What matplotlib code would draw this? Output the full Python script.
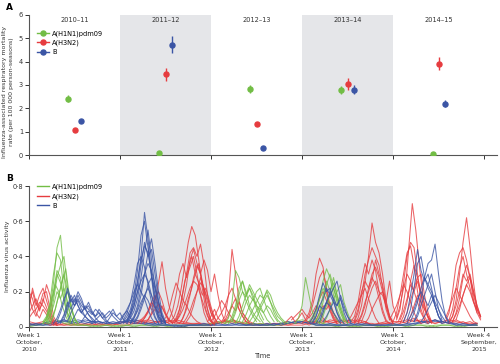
import numpy as np
import matplotlib.pyplot as plt
from matplotlib.lines import Line2D
from matplotlib.transforms import ScaledTranslation

plt.rcParams['font.family'] = ['Liberation Sans Narrow', 'DejaVu Sans']

# ---- panel A: mortality rate per season ----
seasons = ["2010–11", "2011–12", "2012–13", "2013–14", "2014–15"]
h1n1_rate = [2.42, 0.07, 2.82, 2.79, 0.05]
h1n1_err = [0.15, 0.03, 0.16, 0.16, 0.03]
h3n2_rate = [1.07, 3.46, 1.34, 3.04, 3.92]
h3n2_err = [0.06, 0.28, 0.06, 0.27, 0.27]
b_rate = [1.45, 4.73, 0.31, 2.80, 2.20]
b_err = [0.08, 0.36, 0.04, 0.20, 0.14]

# ---- panel B: activity curves, (start week, values x100 every 2 weeks) ----
red_runs = [
    (0, [14, 20, 12, 18, 22, 15, 8, 3, 1]),
    (0, [8, 12, 16, 10, 14, 24, 18, 6, 2]),
    (0, [18, 10, 6, 12, 19, 20, 10, 4, 1]),
    (0, [5, 8, 10, 14, 12, 9, 5, 2, 1]),
    (0, [20, 16, 8, 5, 10, 7, 3, 1]),
    (0, [10, 22, 14, 9, 16, 11, 6, 2]),
    (62, [2, 4, 6, 9, 14, 18, 12, 6, 3, 2]),
    (64, [3, 5, 8, 12, 16, 20, 15, 8, 4, 2]),
    (66, [2, 4, 7, 10, 13, 11, 7, 4, 2]),
    (68, [4, 8, 15, 25, 37, 22, 12, 6, 3, 2]),
    (64, [2, 5, 9, 14, 11, 8, 12, 7, 3]),
    (81, [3, 6, 12, 22, 35, 48, 57, 52, 38, 22, 10, 4, 2]),
    (82, [2, 5, 10, 20, 30, 42, 45, 40, 47, 35, 18, 8, 3]),
    (84, [3, 7, 14, 24, 38, 44, 36, 30, 20, 10, 4, 2]),
    (80, [4, 9, 18, 30, 36, 28, 34, 40, 30, 18, 8, 3, 1]),
    (86, [2, 5, 10, 18, 28, 35, 30, 38, 32, 20, 30, 18, 8, 3]),
    (84, [3, 6, 10, 16, 22, 26, 24, 18, 12, 6, 3, 1]),
    (88, [2, 5, 9, 15, 20, 25, 22, 16, 10, 5, 2]),
    (78, [5, 10, 18, 25, 20, 15, 12, 8, 5, 3, 2]),
    (90, [3, 6, 12, 20, 28, 22, 14, 8, 5]),
    (83, [2, 6, 14, 26, 33, 40, 30, 36, 26, 14, 6, 2]),
    (87, [3, 8, 16, 22, 30, 25, 18, 22, 15, 8, 3]),
    (102, [3, 6, 10, 5, 3, 6, 18, 44, 30, 15, 8, 5, 3, 2]),
    (106, [2, 5, 8, 12, 18, 22, 16, 10, 6, 3, 2]),
    (104, [3, 6, 10, 15, 12, 8, 5, 3]),
    (110, [2, 4, 8, 12, 16, 10, 6, 3]),
    (112, [3, 6, 12, 9, 14, 8, 5, 2]),
    (146, [2, 4, 6, 3, 5, 8, 4, 2]),
    (156, [2, 4, 8, 15, 30, 39, 34, 20, 10, 5, 2]),
    (158, [3, 6, 12, 20, 28, 32, 22, 12, 6, 3]),
    (160, [2, 5, 10, 16, 20, 15, 9, 4, 2]),
    (150, [4, 6, 8, 10, 7, 5, 8, 12, 9, 5, 3]),
    (162, [2, 4, 8, 12, 10, 14, 8, 4, 2]),
    (186, [2, 5, 12, 25, 40, 59, 48, 42, 30, 15, 6, 2]),
    (186, [3, 8, 18, 30, 38, 45, 40, 35, 22, 10, 4]),
    (184, [3, 6, 14, 26, 36, 30, 38, 32, 20, 10, 4, 2]),
    (188, [2, 6, 12, 22, 30, 34, 28, 20, 12, 5, 2]),
    (186, [4, 10, 20, 26, 22, 28, 24, 16, 8, 3]),
    (190, [3, 8, 16, 22, 26, 20, 18, 12, 6, 3]),
    (182, [3, 6, 10, 14, 18, 22, 16, 10, 5, 2]),
    (192, [2, 5, 10, 14, 18, 20, 14, 26, 12, 6]),
    (188, [3, 7, 14, 20, 26, 38, 30, 24, 14, 6, 2]),
    (211, [3, 8, 20, 45, 70, 55, 35, 18, 8, 3]),
    (210, [4, 10, 25, 40, 48, 45, 30, 15, 6, 2]),
    (208, [3, 8, 18, 30, 42, 46, 35, 20, 10, 4]),
    (212, [2, 6, 14, 26, 35, 28, 30, 18, 8, 3]),
    (210, [5, 12, 22, 30, 26, 20, 14, 8, 4]),
    (214, [3, 8, 15, 22, 28, 20, 12, 6, 3]),
    (206, [4, 8, 12, 18, 24, 20, 14, 8, 4, 2]),
    (216, [3, 6, 12, 18, 14, 10, 6, 3]),
    (212, [4, 9, 16, 24, 20, 26, 18, 10, 5, 2]),
    (240, [2, 6, 15, 30, 48, 62, 45, 25, 10]),
    (238, [3, 8, 20, 35, 42, 45, 38, 28, 15, 8]),
    (240, [4, 10, 22, 34, 40, 30, 22, 14, 8, 4]),
    (242, [3, 8, 16, 28, 35, 28, 18, 10, 5]),
    (240, [3, 6, 12, 20, 30, 26, 30, 20, 12, 6]),
    (244, [4, 10, 18, 24, 20, 14, 10, 6]),
    (238, [5, 10, 16, 22, 18, 14, 10, 6, 3, 2]),
    (242, [3, 7, 12, 18, 24, 28, 20, 12, 6]),
]

green_runs = [
    (8, [2, 4, 10, 25, 45, 52, 30, 12, 5, 2]),
    (8, [3, 6, 14, 30, 42, 38, 20, 8, 3]),
    (10, [2, 5, 15, 28, 35, 40, 22, 10, 4, 2]),
    (8, [2, 5, 12, 20, 32, 28, 15, 6, 2]),
    (10, [3, 8, 18, 30, 25, 15, 8, 3]),
    (12, [2, 6, 14, 22, 30, 20, 12, 5, 2]),
    (9, [3, 7, 15, 24, 20, 12, 6, 2]),
    (11, [2, 5, 10, 18, 26, 33, 18, 8, 3]),
    (10, [3, 6, 12, 20, 16, 22, 14, 6, 2]),
    (112, [2, 5, 14, 32, 28, 20, 15, 10, 6, 3]),
    (114, [2, 6, 12, 22, 26, 18, 22, 16, 10, 5, 2]),
    (116, [3, 8, 15, 20, 17, 22, 18, 12, 8, 4]),
    (118, [2, 6, 12, 18, 24, 20, 16, 12, 8, 4, 2]),
    (120, [3, 8, 14, 18, 15, 20, 22, 16, 10, 6, 3]),
    (124, [2, 6, 10, 14, 18, 16, 20, 14, 8, 4, 2]),
    (122, [3, 7, 12, 16, 12, 10, 8, 12, 10, 6, 3]),
    (128, [2, 5, 10, 14, 18, 14, 10, 6, 4, 2]),
    (116, [4, 10, 18, 26, 20, 12, 8, 5, 3]),
    (126, [3, 6, 9, 12, 16, 21, 18, 12, 8, 5, 3, 2]),
    (152, [2, 5, 12, 28, 18, 8, 4, 2]),
    (162, [3, 8, 16, 26, 33, 28, 18, 10, 5, 2]),
    (164, [2, 6, 14, 24, 30, 22, 14, 8, 3]),
    (164, [3, 8, 18, 26, 20, 28, 18, 10, 4]),
    (166, [2, 6, 12, 20, 25, 18, 12, 6, 2]),
    (160, [3, 6, 10, 16, 22, 18, 12, 8, 4, 2]),
    (166, [3, 8, 14, 18, 22, 16, 10, 5, 2]),
    (168, [2, 5, 10, 16, 20, 24, 14, 8, 3]),
]

blue_runs = [
    (14, [2, 5, 10, 16, 20, 14, 18, 12, 8, 6, 4, 3]),
    (16, [3, 8, 14, 22, 16, 12, 15, 10, 6, 4, 2]),
    (18, [2, 6, 12, 18, 14, 20, 16, 10, 7, 5, 3]),
    (20, [4, 10, 16, 12, 18, 14, 10, 12, 8, 5, 3, 2]),
    (22, [3, 8, 12, 16, 12, 10, 14, 9, 6, 8, 5, 3]),
    (24, [2, 6, 10, 8, 12, 10, 8, 6, 10, 7, 4, 2]),
    (30, [3, 6, 9, 7, 10, 8, 5, 7, 9, 6, 4, 2]),
    (36, [2, 4, 6, 8, 5, 7, 10, 6, 8, 4, 2]),
    (44, [2, 5, 8, 6, 4, 7, 9, 5, 3]),
    (18, [3, 7, 14, 10, 16, 12, 8, 11, 7, 4, 2]),
    (54, [2, 4, 8, 14, 25, 40, 65, 50, 30, 15, 6, 3, 2]),
    (54, [3, 6, 10, 18, 32, 52, 60, 45, 28, 12, 5, 2]),
    (56, [2, 5, 9, 16, 28, 42, 55, 38, 22, 10, 4, 2]),
    (56, [3, 6, 12, 20, 35, 48, 40, 44, 30, 15, 6, 2]),
    (58, [2, 5, 10, 18, 30, 42, 50, 36, 20, 8, 3]),
    (54, [4, 8, 14, 24, 36, 40, 34, 24, 14, 6, 2]),
    (58, [3, 6, 12, 22, 30, 36, 32, 24, 14, 6, 2]),
    (56, [3, 7, 12, 20, 26, 30, 26, 18, 10, 4, 2]),
    (60, [2, 5, 10, 16, 24, 28, 22, 14, 6, 2]),
    (52, [3, 6, 10, 14, 20, 24, 20, 16, 10, 5, 2]),
    (60, [3, 6, 12, 18, 22, 18, 12, 6, 3]),
    (58, [2, 5, 9, 14, 18, 15, 10, 5, 2]),
    (56, [4, 8, 16, 26, 38, 46, 42, 30, 18, 8, 3]),
    (160, [2, 5, 10, 18, 25, 20, 22, 15, 8, 3]),
    (162, [3, 6, 12, 16, 22, 18, 14, 8, 4, 2]),
    (164, [2, 5, 10, 14, 18, 22, 26, 16, 8, 3]),
    (166, [3, 8, 14, 20, 16, 12, 18, 12, 6, 2]),
    (162, [2, 6, 12, 10, 14, 12, 8, 5, 2]),
    (168, [3, 6, 10, 14, 12, 16, 10, 6, 3]),
    (214, [3, 8, 18, 30, 44, 32, 26, 30, 22, 12, 6, 3]),
    (220, [3, 8, 16, 28, 36, 38, 47, 30, 15, 6, 2]),
    (216, [4, 10, 22, 36, 40, 28, 22, 18, 12, 6, 3]),
    (218, [3, 8, 14, 22, 28, 24, 30, 20, 10, 4]),
    (220, [3, 6, 12, 18, 24, 20, 14, 10, 6, 3]),
    (216, [2, 6, 10, 16, 20, 16, 12, 18, 12, 6, 2]),
    (224, [3, 6, 10, 14, 18, 14, 10, 6, 3]),
]

# low background activity, x100, every 4 weeks from week 0
red_base = [
    [3, 2, 2, 1, 1, 1, 1, 2, 1, 1, 1, 1, 2, 1, 1, 2, 3, 4, 3, 2, 3, 4, 3, 2, 2, 1, 1, 2, 3, 3, 2, 2, 1,
     1, 2, 1, 1, 1, 1, 1, 2, 2, 3, 3, 2, 3, 4, 3, 2, 2, 1, 2, 2, 3, 4, 3, 4, 3, 2, 3, 4, 3, 2, 2, 2],
    [1, 2, 3, 1, 2, 1, 2, 1, 1, 2, 1, 2, 1, 2, 3, 2, 2, 3, 2, 4, 2, 3, 2, 1, 2, 2, 1, 3, 2, 4, 2, 3, 1,
     2, 1, 2, 1, 2, 2, 3, 1, 3, 2, 4, 3, 2, 3, 2, 3, 1, 2, 3, 1, 2, 3, 5, 2, 3, 2, 3, 2, 4, 2, 3, 1],
    [2, 1, 2, 2, 1, 2, 1, 1, 2, 1, 2, 1, 1, 3, 2, 3, 4, 2, 3, 3, 4, 2, 2, 2, 1, 1, 2, 2, 4, 2, 3, 1, 2,
     1, 1, 2, 2, 1, 2, 2, 3, 2, 4, 2, 3, 4, 2, 4, 3, 1, 2, 2, 3, 3, 2, 4, 3, 2, 4, 2, 3, 2, 3, 1, 2],
]
green_base = [
    [1, 1, 2, 3, 4, 2, 1, 1, 1, 0, 1, 1, 1, 0, 1, 1, 1, 1, 1, 1, 0, 1, 1, 1, 1, 1, 1, 2, 3, 4, 3, 2, 2,
     1, 1, 1, 1, 2, 3, 4, 3, 3, 2, 1, 1, 1, 0, 1, 1, 1, 0, 1, 1, 1, 1, 1, 1, 0, 1, 1, 1, 1, 0, 1, 1],
    [0, 1, 1, 2, 3, 3, 2, 1, 1, 1, 0, 1, 0, 1, 1, 0, 1, 1, 0, 1, 1, 1, 0, 1, 1, 1, 2, 3, 2, 3, 2, 1, 1,
     2, 1, 1, 2, 3, 2, 3, 2, 1, 1, 1, 0, 1, 1, 0, 1, 1, 1, 0, 1, 1, 0, 1, 1, 1, 0, 1, 1, 0, 1, 1, 1],
]
blue_base = [
    [2, 1, 1, 2, 3, 4, 3, 4, 3, 2, 3, 2, 2, 3, 3, 4, 3, 2, 2, 1, 1, 1, 1, 1, 1, 1, 1, 1, 1, 2, 1, 1, 1,
     1, 1, 2, 1, 2, 3, 3, 2, 2, 1, 1, 1, 1, 1, 1, 2, 1, 1, 1, 1, 1, 1, 2, 3, 3, 4, 3, 2, 2, 1, 1, 1],
    [1, 2, 1, 1, 2, 3, 3, 2, 4, 3, 2, 3, 2, 2, 4, 3, 2, 2, 1, 2, 1, 1, 0, 1, 1, 1, 1, 2, 1, 1, 1, 1, 2,
     1, 1, 1, 2, 3, 2, 3, 2, 1, 1, 1, 1, 1, 2, 1, 1, 1, 1, 1, 1, 1, 2, 2, 2, 4, 3, 3, 2, 1, 1, 1, 2],
    [1, 1, 2, 3, 2, 4, 2, 3, 2, 3, 3, 2, 3, 2, 3, 2, 2, 1, 1, 1, 1, 0, 1, 1, 1, 2, 1, 1, 1, 1, 2, 1, 1,
     1, 2, 1, 2, 2, 3, 2, 3, 1, 1, 2, 1, 1, 1, 2, 1, 1, 1, 1, 2, 1, 1, 1, 3, 2, 4, 2, 3, 1, 2, 1, 1],
]

GREEN = '#72bd45'
RED = '#e63c3f'
BLUE = '#3b55a5'
SHADE = '#e5e6e9'
AXC = '#555555'
TXT = '#333333'
FS = 4.8

fig = plt.figure(figsize=(5.0, 3.64), dpi=100)

# ---------- panel A ----------
axA = fig.add_axes([0.058, 0.574, 0.936, 0.385])
for lo in (1, 3):
    axA.axvspan(lo, lo + 1, color=SHADE, lw=0, zorder=0)
centers = np.arange(len(seasons)) + 0.5
off = 0.068
for rate, err, col, dx in [(h1n1_rate, h1n1_err, GREEN, -off),
                           (h3n2_rate, h3n2_err, RED, 0),
                           (b_rate, b_err, BLUE, off)]:
    axA.errorbar(centers + dx, rate, yerr=err, fmt='o', color=col, ms=3.6,
                 elinewidth=1.0, capsize=0, zorder=3)
for c, s in zip(centers, seasons):
    axA.text(c, 5.78, s, ha='center', va='center', fontsize=FS, color=TXT)
axA.set_xlim(0, 5.14)
axA.set_ylim(0, 6)
axA.set_xticks([0, 1, 2, 3, 4, 5])
axA.set_xticklabels([])
axA.set_yticks(range(7))
axA.set_ylabel("Influenza-associated respiratory mortality\nrate (per 100 000 person-seasons)",
               fontsize=4.5, color=TXT, linespacing=1.5)
axA.yaxis.set_label_coords(-0.032, 0.45)
handles = [Line2D([], [], color=c, marker='o', ms=3.6, lw=1.0) for c in (GREEN, RED, BLUE)]
axA.legend(handles, ["A(H1N1)pdm09", "A(H3N2)", "B"], loc='upper left',
           bbox_to_anchor=(0.012, 0.91), frameon=False, fontsize=FS,
           handlelength=1.7, handletextpad=0.5, labelspacing=0.45, borderaxespad=0)
fig.text(0.012, 0.992, "A", fontsize=6.5, fontweight='bold', va='top')

# ---------- panel B ----------
axB = fig.add_axes([0.058, 0.102, 0.936, 0.387])
for lo in (52, 156):
    axB.axvspan(lo, lo + 52, color=SHADE, lw=0, zorder=0)

for base, col in [(red_base, RED), (green_base, GREEN), (blue_base, BLUE)]:
    for vals in base:
        x = 4 * np.arange(len(vals))
        keep = x <= 258
        axB.plot(x[keep], np.array(vals)[keep] / 100, color=col, lw=0.7, alpha=0.8)

for runs, col in [(red_runs, RED), (green_runs, GREEN), (blue_runs, BLUE)]:
    for start, vals in runs:
        x = start + 2 * np.arange(len(vals))
        axB.plot(x, np.array(vals) / 100, color=col, lw=0.75, alpha=0.8)

axB.set_xlim(0, 267.4)
axB.set_ylim(0, 0.8)
axB.set_yticks([0, 0.2, 0.4, 0.6, 0.8])
axB.set_yticklabels(["0", "0·2", "0·4", "0·6", "0·8"])
axB.set_xticks([0, 52, 104, 156, 208, 260])
axB.set_xticklabels(["Week 1\nOctober,\n2010", "Week 1\nOctober,\n2011", "Week 1\nOctober,\n2012",
                     "Week 1\nOctober,\n2013", "Week 1\nOctober,\n2014", "Week 4\nSeptember,\n2015"],
                    linespacing=1.55)
axB.set_ylabel("Influenza virus activity", fontsize=4.5, color=TXT)
axB.yaxis.set_label_coords(-0.04, 0.5)
axB.set_xlabel("Time", fontsize=FS, color=TXT, labelpad=0.5)
lh = [Line2D([], [], color=c, lw=1.0) for c in (GREEN, RED, BLUE)]
axB.legend(lh, ["A(H1N1)pdm09", "A(H3N2)", "B"], loc='upper left',
           bbox_to_anchor=(0.012, 1.035), frameon=False, fontsize=FS,
           handlelength=1.7, handletextpad=0.5, labelspacing=0.45, borderaxespad=0)
fig.text(0.012, 0.522, "B", fontsize=6.5, fontweight='bold', va='top')

for ax in (axA, axB):
    for s in ('top', 'right'):
        ax.spines[s].set_visible(False)
    for s in ('left', 'bottom'):
        ax.spines[s].set_color(AXC)
        ax.spines[s].set_linewidth(0.8)
    ax.tick_params(labelsize=FS, colors=TXT, length=3, width=0.7, pad=1.2)
axB.tick_params(axis='x', labelsize=4.5)

# nudge the last date label left so it stays inside the picture
last = axB.get_xticklabels()[-1]
last.set_transform(last.get_transform() + ScaledTranslation(-0.05, 0, fig.dpi_scale_trans))

fig.savefig("out.png", dpi=100)
